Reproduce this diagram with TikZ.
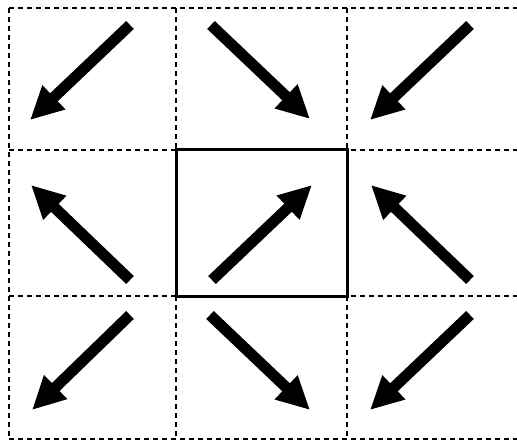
\documentclass[tikz,border=0pt]{standalone}
\usetikzlibrary{arrows.meta}
\tikzset{
  gridline/.style={line width=1.4pt, dash pattern=on 5pt off 4pt},
  move/.style={line width=11pt, -{Triangle[length=33pt,width=31pt]}}
}
\begin{document}
\begin{tikzpicture}[x=1pt, y=-1pt]
        \useasboundingbox (0,0) rectangle (517,441);
        \foreach \x in {9,176,347} {
            \draw[gridline] (\x,8) -- (\x,439);
        }
        \foreach \y in {8,150,296,439} {
            \draw[gridline] (9,\y) -- (517,\y);
        }
        \draw[line width=3pt] (176,150) rectangle (347,296);
        \foreach \tx/\ty/\hx/\hy [count=\i from 1] in {130/25/30/120, 211/25/310/119, 470/25/370/120,
                130/280/31/185, 212/280/312/185, 470/280/371/185,
                130/315/32/410, 210/315/310/410, 470/315/370/410} {
            \coordinate (tail\i) at (\tx,\ty);
            \coordinate (head\i) at (\hx,\hy);
            \draw[move] (tail\i) -- (head\i);
        }
    \end{tikzpicture}
\end{document}
